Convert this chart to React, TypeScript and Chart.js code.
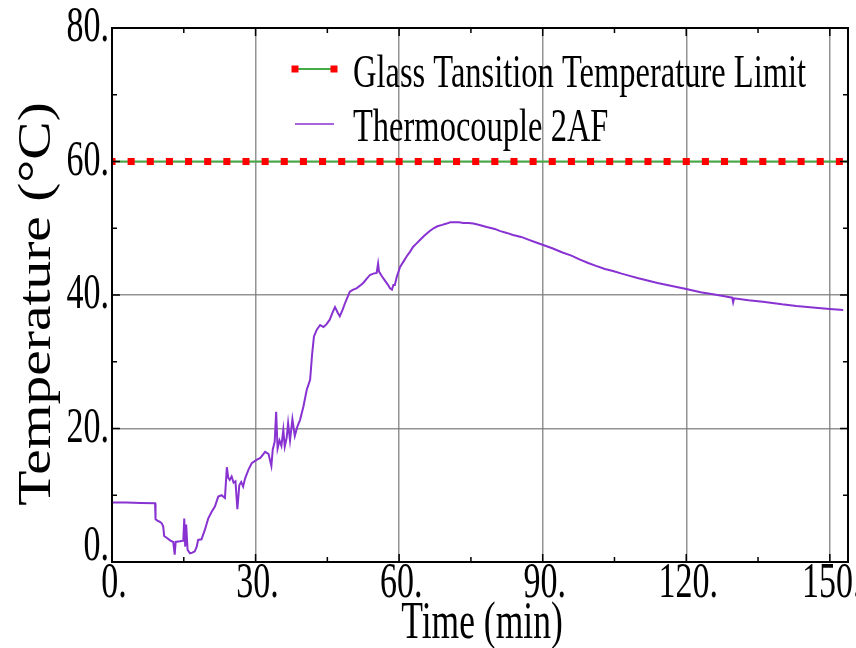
import React, { useEffect, useRef } from "react";
import { Chart, registerables } from "chart.js";

Chart.register(...registerables);

// ---- Data ----
const seriesNames = ["Glass Tansition Temperature Limit", "Thermocouple 2AF"];
const limitValue = 60;
const limitTimes = [0, 4, 8, 12, 16, 20, 24, 28, 32, 36, 40, 44, 48, 52, 56, 60, 64, 68, 72, 76, 80, 84, 88, 92, 96, 100, 104, 108, 112, 116, 120, 124, 128, 132, 136, 140, 144, 148, 152, 153.8];

const tcTimes = [
  0, 3, 6, 9.0, 9.1, 9.5, 10.0, 10.4, 10.7, 10.9, 11.5, 12.2, 12.8, 13.1, 13.3, 14.2, 14.9, 15.1, 15.3, 15.5,
  15.8, 16.3, 16.8, 17.3, 17.7, 18.0, 18.7, 19.4, 20.1, 20.8, 21.5, 22.2, 22.9, 23.6, 24.0, 24.3, 24.6, 25.0, 25.4, 25.8,
  26.2, 26.6, 27.0, 27.4, 27.8, 28.5, 29.2, 30.2, 31.0, 32.0, 32.7, 33.3, 33.6, 34.0, 34.3, 34.6, 35.0, 35.4, 35.8, 36.1,
  36.5, 36.8, 37.2, 37.7, 38.2, 38.7, 39.3, 40.0, 40.7, 41.4, 41.8, 42.2, 42.8, 43.5, 44.2, 44.8, 45.5, 46.1, 46.6, 47.2,
  47.6, 48.2, 48.7, 49.7, 50.4, 51.1, 52.0, 52.5, 53.2, 53.9, 54.6, 55.3, 55.6, 55.8, 56.4, 57.0, 57.6, 58.1, 58.5, 58.8,
  59.1, 59.5, 60.2, 60.9, 61.6, 62.3, 62.9, 63.6, 64.3, 65.3, 66.4, 67.2, 68.0, 69.0, 69.9, 70.7, 71.5, 72.5, 73.4, 74.5,
  75.5, 76.8, 78.3, 80, 81, 82.5, 83.8, 85.5, 87, 88.5, 90.1, 92, 94, 96, 97.8, 99.5, 101, 103, 104.7, 106.5,
  108, 110, 111.7, 114, 116, 118, 120, 123, 125.6, 128, 129.6, 129.8, 130.0, 133, 136, 140, 143, 147, 150, 152.8,
];
const tcTemps = [
  8.9, 8.9, 8.85, 8.8, 6.4, 6.2, 6.0, 5.8, 5.3, 3.9, 3.6, 3.2, 3.0, 1.1, 3.0, 3.1, 3.2, 6.5, 2.3, 5.6,
  1.8, 1.3, 1.4, 1.6, 2.3, 3.3, 3.4, 4.8, 6.5, 7.5, 8.3, 9.8, 10.0, 9.6, 14.2, 12.6, 12.3, 12.8, 11.9, 12.1,
  7.9, 11.5, 12.0, 11.3, 12.5, 13.8, 14.8, 15.3, 15.6, 16.5, 16.2, 14.4, 16.9, 18.0, 22.5, 17.0, 18.2, 17.4, 19.8, 17.3,
  18.6, 20.8, 18.2, 21.4, 18.9, 20.2, 21.3, 23.3, 25.8, 27.3, 31.0, 33.8, 34.8, 35.5, 35.2, 35.6, 36.3, 37.4, 38.2, 37.3,
  36.8, 37.8, 38.8, 40.5, 40.8, 41.0, 41.5, 41.8, 42.4, 43.0, 43.2, 43.3, 44.7, 43.5, 42.8, 42.2, 41.6, 41.0, 40.8, 41.5,
  41.5, 42.7, 44.2, 45.0, 45.8, 46.5, 47.2, 47.7, 48.2, 48.9, 49.6, 50.0, 50.3, 50.5, 50.7, 50.9, 50.9, 50.9, 50.8, 50.8,
  50.7, 50.5, 50.2, 49.9, 49.6, 49.3, 49.0, 48.7, 48.3, 47.9, 47.5, 47.0, 46.4, 45.9, 45.3, 44.8, 44.4, 43.9, 43.6, 43.2,
  42.9, 42.5, 42.2, 41.8, 41.5, 41.2, 40.9, 40.4, 40.1, 39.8, 39.6, 38.9, 39.5, 39.2, 39.0, 38.6, 38.35, 38.1, 37.9, 37.75,
];

const xTickValues = [0, 30, 60, 90, 120, 150];
const yTickValues = [0, 20, 40, 60, 80];
const xMinorValues = [15, 45, 75, 105, 135];
const yMinorValues = [10, 30, 50, 70];
const xTitle = "Time (min)";
const yTitle = "Temperature (°C)";

const X_MAX = 153.8;
const LIMIT_GREEN = "rgb(70,170,70)";
const LIMIT_RED = "#ff0000";
const TC_COLOR = "rgb(136,50,210)";
const FONT = '"Liberation Serif", "Times New Roman", serif';

function stretchText(
  ctx: CanvasRenderingContext2D,
  text: string,
  x: number,
  y: number,
  size: number,
  sy: number,
  align: CanvasTextAlign
) {
  ctx.save();
  ctx.translate(x, y);
  ctx.scale(1, sy);
  ctx.font = `${size}px ${FONT}`;
  ctx.textAlign = align;
  ctx.textBaseline = "middle";
  ctx.fillStyle = "#000";
  ctx.fillText(text, 0, 0);
  ctx.restore();
}

const decorPlugin = {
  id: "decor",
  afterDraw(chart: any) {
    const ctx: CanvasRenderingContext2D = chart.ctx;
    const { left, right, top, bottom } = chart.chartArea;
    const xs = chart.scales.x;
    const ys = chart.scales.y;
    ctx.save();
    // ticks inward on all four sides
    ctx.strokeStyle = "#000";
    ctx.lineWidth = 1.5;
    ctx.beginPath();
    const xt = [...xTickValues.map((v) => [v, 8]), ...xMinorValues.map((v) => [v, 5])];
    xt.forEach(([v, len]) => {
      const px = xs.getPixelForValue(v);
      ctx.moveTo(px, bottom);
      ctx.lineTo(px, bottom - len);
      ctx.moveTo(px, top);
      ctx.lineTo(px, top + len);
    });
    const yt = [...yTickValues.map((v) => [v, 8]), ...yMinorValues.map((v) => [v, 5])];
    yt.forEach(([v, len]) => {
      const py = ys.getPixelForValue(v);
      ctx.moveTo(left, py);
      ctx.lineTo(left + len, py);
      ctx.moveTo(right, py);
      ctx.lineTo(right - len, py);
    });
    ctx.stroke();
    // frame
    ctx.lineWidth = 2;
    ctx.strokeRect(left, top, right - left, bottom - top);

    // tick labels
    xTickValues.forEach((v) => {
      stretchText(ctx, `${v}.`, xs.getPixelForValue(v) + 2, bottom + 22, 34, 1.5, "center");
    });
    yTickValues.forEach((v) => {
      let py = ys.getPixelForValue(v);
      if (v === 0) py -= 15;
      stretchText(ctx, `${v}.`, left - 3, py, 34, 1.5, "right");
    });

    // axis titles
    stretchText(ctx, xTitle, (left + right) / 2 + 2, 624, 35.5, 1.5, "center");
    ctx.save();
    ctx.translate(38, 304);
    ctx.rotate(-Math.PI / 2);
    ctx.scale(1.25, 1);
    ctx.font = `46px ${FONT}`;
    ctx.textAlign = "center";
    ctx.textBaseline = "middle";
    ctx.fillStyle = "#000";
    ctx.fillText(yTitle, 0, 0);
    ctx.restore();

    // legend
    const lx0 = 295;
    const lx1 = 334;
    const r1 = 69;
    const r2 = 124;
    ctx.strokeStyle = LIMIT_GREEN;
    ctx.lineWidth = 2;
    ctx.beginPath();
    ctx.moveTo(lx0, r1);
    ctx.lineTo(lx1, r1);
    ctx.stroke();
    ctx.fillStyle = LIMIT_RED;
    ctx.fillRect(lx0 - 3.5, r1 - 3.5, 7, 7);
    ctx.fillRect(lx1 - 3.5, r1 - 3.5, 7, 7);
    ctx.strokeStyle = TC_COLOR;
    ctx.lineWidth = 1.5;
    ctx.beginPath();
    ctx.moveTo(lx0, r2);
    ctx.lineTo(lx1, r2);
    ctx.stroke();
    stretchText(ctx, seriesNames[0], 353, r1 + 6, 32.5, 1.45, "left");
    stretchText(ctx, seriesNames[1], 353, r2 + 5, 32.5, 1.45, "left");
    ctx.restore();
  },
};

export default function App() {
  const ref = useRef<HTMLCanvasElement | null>(null);
  useEffect(() => {
    if (!ref.current) return;
    const limitData = limitTimes.map((t) => ({ x: t, y: limitValue }));
    const tcData = tcTimes.map((t, i) => ({ x: t, y: tcTemps[i] }));
    const chart = new Chart(ref.current, {
      type: "line",
      data: {
        datasets: [
          {
            label: seriesNames[1],
            data: tcData,
            borderColor: TC_COLOR,
            borderWidth: 2,
            pointRadius: 0,
            tension: 0,
            fill: false,
          },
          {
            label: seriesNames[0],
            data: limitData,
            borderColor: LIMIT_GREEN,
            borderWidth: 2,
            pointStyle: "rect",
            pointRadius: (c: any) => (c.raw && c.raw.x > 152.5 ? 0 : 5),
            pointBackgroundColor: LIMIT_RED,
            pointBorderColor: LIMIT_RED,
            pointBorderWidth: 0,
            tension: 0,
            fill: false,
          },
        ],
      },
      options: {
        animation: false,
        responsive: false,
        devicePixelRatio: 1,
        layout: { padding: { left: 112, right: 8, top: 28, bottom: 86 } },
        plugins: { legend: { display: false }, tooltip: { enabled: false } },
        scales: {
          x: {
            type: "linear",
            min: 0,
            max: X_MAX,
            ticks: { display: false, stepSize: 30, includeBounds: false },
            grid: { color: "rgba(120,120,120,0.8)", lineWidth: 1.5, drawTicks: false },
            border: { display: false },
          },
          y: {
            type: "linear",
            min: 0,
            max: 80,
            ticks: { display: false, stepSize: 20, includeBounds: false },
            grid: { color: "rgba(120,120,120,0.8)", lineWidth: 1.5, drawTicks: false },
            border: { display: false },
          },
        },
      },
      plugins: [decorPlugin],
    });
    return () => chart.destroy();
  }, []);
  return (
    <div style={{ position: "absolute", left: 0, top: 0, width: 856, height: 648, background: "#fff" }}>
      <canvas ref={ref} width={856} height={648} />
    </div>
  );
}
